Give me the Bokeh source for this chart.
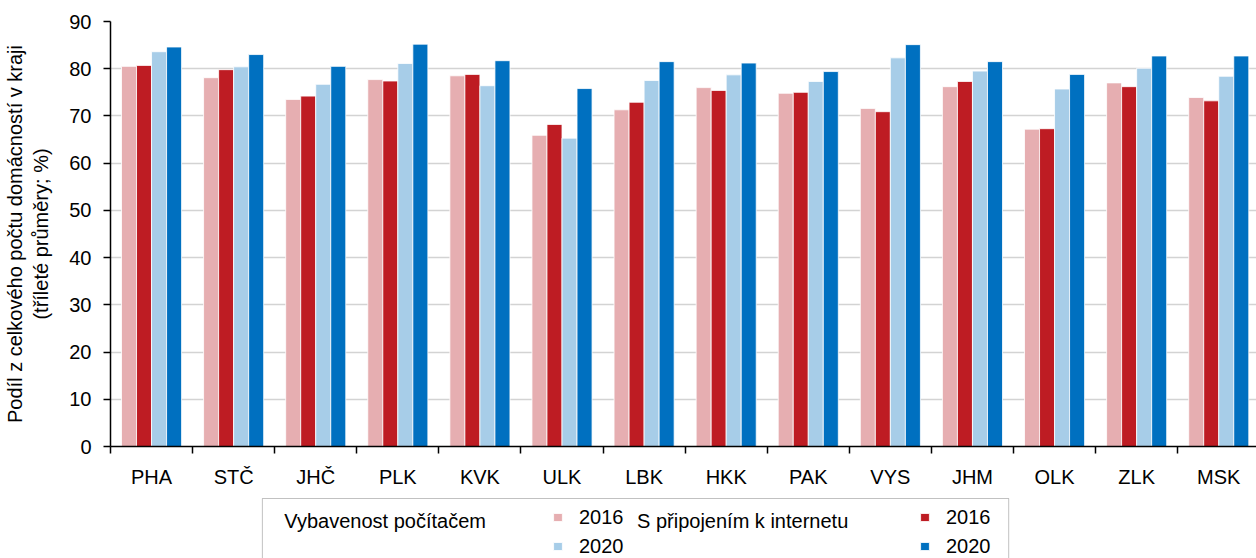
from bokeh.plotting import figure
from bokeh.models import (ColumnDataSource, Range1d, FixedTicker, Legend, LegendItem,
                          Label, BoxAnnotation)
from bokeh.layouts import column
from bokeh.transform import dodge
from bokeh.embed import file_html
from bokeh.resources import INLINE

regions = ["PHA", "STČ", "JHČ", "PLK", "KVK", "ULK", "LBK", "HKK", "PAK", "VYS",
           "JHM", "OLK", "ZLK", "MSK"]
pc_2016 = [80.5, 78.1, 73.5, 77.7, 78.5, 65.9, 71.3, 76.0, 74.8, 71.6, 76.2, 67.2, 77.0, 73.9]
pc_2020 = [83.6, 80.4, 76.7, 81.1, 76.4, 65.3, 77.5, 78.7, 77.3, 82.3, 79.5, 75.7, 80.1, 78.4]
net_2016 = [80.7, 79.8, 74.2, 77.4, 78.8, 68.2, 72.9, 75.4, 75.0, 70.9, 77.3, 67.3, 76.2, 73.2]
net_2020 = [84.6, 83.0, 80.5, 85.2, 81.7, 75.8, 81.5, 81.2, 79.4, 85.1, 81.5, 78.8, 82.7, 82.7]
y_ticks = [0, 10, 20, 30, 40, 50, 60, 70, 80, 90]
group_pc = "Vybavenost počítačem"
group_net = "S připojením k internetu"
years = ["2016", "2020"]

FONT = "Liberation Sans"
C_PINK, C_RED, C_LBLUE, C_BLUE = "#E6AEB1", "#BE1C23", "#A7CDE8", "#0070C0"

W = 1256
LEFT = 109
centers = [i + 0.5 for i in range(len(regions))]
src = ColumnDataSource(dict(x=centers, pc16=pc_2016, pc20=pc_2020, n16=net_2016, n20=net_2020))

p = figure(width=W, height=490, output_backend="svg", toolbar_location=None,
           x_range=Range1d(0, 13.96), y_range=Range1d(0, 90),
           min_border_left=LEFT, min_border_right=0, min_border_top=21, min_border_bottom=44)
p.outline_line_color = None

bw = 0.183
bar_kw = dict(width=bw, source=src, line_color="white", line_width=0.8)
p.vbar(x=dodge("x", -1.5 * bw), top="pc16", fill_color=C_PINK, **bar_kw)
p.vbar(x=dodge("x", -0.5 * bw), top="n16", fill_color=C_RED, **bar_kw)
p.vbar(x=dodge("x", 0.5 * bw), top="pc20", fill_color=C_LBLUE, **bar_kw)
p.vbar(x=dodge("x", 1.5 * bw), top="n20", fill_color=C_BLUE, **bar_kw)

xa = p.xaxis[0]
xa.ticker = FixedTicker(ticks=centers, minor_ticks=list(range(len(regions) + 1)))
xa.major_label_overrides = {c: r for c, r in zip(centers, regions)}
xa.major_tick_line_color = None
xa.major_tick_out = 0
xa.minor_tick_in = 0
xa.minor_tick_out = 7
xa.minor_tick_line_color = "black"
xa.minor_tick_line_width = 1.5
xa.axis_line_color = "black"
xa.axis_line_width = 1.5
xa.major_label_standoff = 12
xa.major_label_text_font = FONT
xa.major_label_text_font_size = "20px"
xa.major_label_text_color = "black"

ya = p.yaxis[0]
ya.ticker = FixedTicker(ticks=y_ticks)
ya.major_tick_in = 0
ya.major_tick_out = 7
ya.major_tick_line_color = "black"
ya.major_tick_line_width = 1.5
ya.minor_tick_line_color = None
ya.axis_line_color = "black"
ya.axis_line_width = 1.5
ya.major_label_standoff = 12
ya.major_label_text_font = FONT
ya.major_label_text_font_size = "20px"
ya.major_label_text_color = "black"
ya.axis_label = "Podíl z celkového počtu domácností v kraji\n(tříleté průměry; %)"
ya.axis_label_text_font = FONT
ya.axis_label_text_font_size = "20px"
ya.axis_label_text_font_style = "normal"
ya.axis_label_text_color = "black"
ya.axis_label_standoff = 14

p.xgrid.grid_line_color = None
p.ygrid.grid_line_color = "#D3D3D3"
p.ygrid.grid_line_width = 1.5

# ---- legend strip (coordinates in page pixels) ----
LH = 68
lg = figure(width=W, height=LH, output_backend="svg", toolbar_location=None,
            x_range=Range1d(LEFT, W), y_range=Range1d(0, LH),
            x_axis_type=None, y_axis_type=None,
            min_border_left=LEFT, min_border_right=0, min_border_top=0, min_border_bottom=0)
lg.outline_line_color = None
lg.xgrid.grid_line_color = None
lg.ygrid.grid_line_color = None

# legend proxies (no visible marks)
proxy = ColumnDataSource(dict(x=[float("nan")], top=[float("nan")]))
pk = dict(x="x", top="top", width=1, source=proxy, line_color="white", line_width=0.8)
k1 = lg.vbar(fill_color=C_PINK, **pk)
k2 = lg.vbar(fill_color=C_LBLUE, **pk)
k3 = lg.vbar(fill_color=C_RED, **pk)
k4 = lg.vbar(fill_color=C_BLUE, **pk)

lg.add_layout(BoxAnnotation(left=261, right=1008, top=60, bottom=-20,
                            fill_alpha=0, line_color="#333333", line_width=1))

for txt, xx in [(group_pc, 283), (group_net, 636)]:
    lg.add_layout(Label(x=xx, y=38, text=txt, text_baseline="middle", text_font=FONT,
                        text_font_size="20px", text_color="black"))

def mk_legend(items, xloc):
    L = Legend(items=items, location=(xloc - LEFT, 0.5), orientation="vertical",
               padding=0, margin=0, spacing=6, glyph_width=11, glyph_height=10,
               label_height=21, label_standoff=16, border_line_color=None,
               background_fill_alpha=0, label_text_font=FONT,
               label_text_font_size="20px", label_text_color="black")
    lg.add_layout(L, "center")

mk_legend([LegendItem(label=years[0], renderers=[k1]), LegendItem(label=years[1], renderers=[k2])], 551)
mk_legend([LegendItem(label=years[0], renderers=[k3]), LegendItem(label=years[1], renderers=[k4])], 918)

open("out.html", "w").write(file_html(column(p, lg, spacing=0), INLINE))
